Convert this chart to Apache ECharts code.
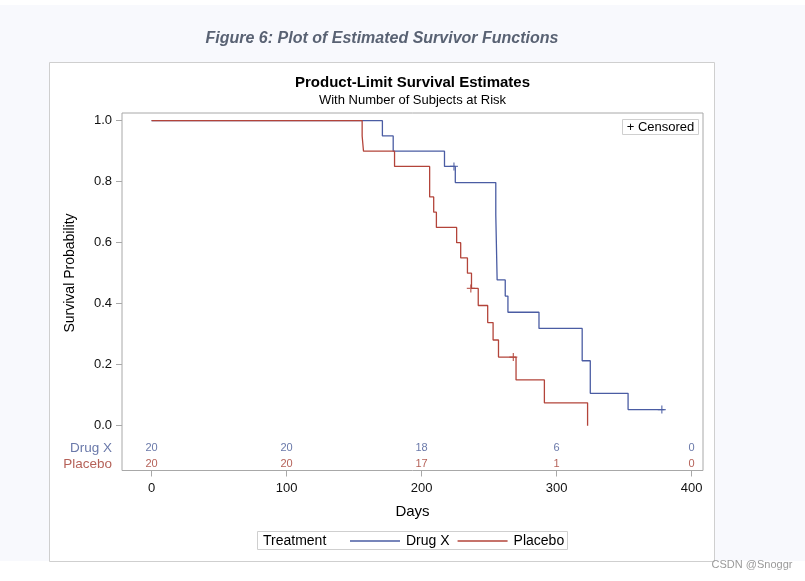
<!DOCTYPE html>
<html>
<head>
<meta charset="utf-8">
<script src="https://cdn.jsdelivr.net/npm/echarts@6/dist/echarts.min.js"></script>
<style>
html,body{margin:0;padding:0;background:#fff;}
#chart{width:805px;height:581px;}
</style>
</head>
<body>
<div id="chart"></div>
<script>
// ---- data ----
const drugDays = [0, 171, 179, 217, 225, 255, 256, 262, 264, 287, 319, 325, 353, 380];
const drugSurv = [1.0, 0.95, 0.90, 0.85, 0.797, 0.691, 0.478, 0.425, 0.372, 0.319, 0.213, 0.106, 0.053, 0.053];
const drugCensorDays = [224, 378];
const drugCensorSurv = [0.85, 0.053];

const placeboDays = [0, 156, 157, 180, 206, 209, 211, 226, 229, 234, 237, 242, 249, 253, 257, 270, 291, 323];
const placeboSurv = [1.0, 0.95, 0.90, 0.85, 0.75, 0.70, 0.65, 0.60, 0.55, 0.50, 0.45, 0.394, 0.338, 0.281, 0.225, 0.15, 0.075, 0.0];
const placeboCensorDays = [236.5, 268];
const placeboCensorSurv = [0.45, 0.225];

const riskDays = [0, 100, 200, 300, 400];
const drugAtRisk = [20, 20, 18, 6, 0];
const placeboAtRisk = [20, 20, 17, 1, 0];

const xTicks = [0, 100, 200, 300, 400];
const yTicks = [0.0, 0.2, 0.4, 0.6, 0.8, 1.0];

const groupNames = ['Drug X', 'Placebo'];

// ---- style ----
const BLUE = '#4a5ca3';
const RED = '#b3443a';
const BLUE_TXT = '#445694';
const RED_TXT = '#a23a2e';
const FONT = '"Liberation Sans", Arial, sans-serif';
const X_MIN = -21.9, X_MAX = 408.5;
const Y_MIN = -0.1469, Y_MAX = 1.0252;
const ROW1_Y = -0.073, ROW2_Y = -0.1256;

const pair = (xs, ys) => xs.map((x, i) => [x, ys[i]]);
const crossPath = 'path://M5,0L5,10M0,5L10,5';

const chart = echarts.init(document.getElementById('chart'), null, {renderer: 'canvas'});
chart.setOption({
  animation: false,
  backgroundColor: '#ffffff',
  textStyle: {fontFamily: FONT},
  graphic: [
    {type: 'rect', z: -20, silent: true, shape: {x: 0, y: 5, width: 805, height: 556}, style: {fill: '#f8f9fd'}},
    {type: 'rect', z: -19, silent: true, shape: {x: 49.5, y: 62.5, width: 665, height: 499}, style: {fill: '#ffffff', stroke: '#cfcfcf', lineWidth: 1}},
    {type: 'text', z: 10, x: 382, y: 39, style: {x: 0, y: 0, text: 'Figure 6: Plot of Estimated Survivor Functions', fill: '#596273', font: 'italic bold 16px ' + FONT, textAlign: 'center', textVerticalAlign: 'middle'}},
    {type: 'text', z: 10, x: 412.5, y: 83, style: {x: 0, y: 0, text: 'Product-Limit Survival Estimates', fill: '#000', font: 'bold 15px ' + FONT, textAlign: 'center', textVerticalAlign: 'middle'}},
    {type: 'text', z: 10, x: 412.5, y: 100, style: {x: 0, y: 0, text: 'With Number of Subjects at Risk', fill: '#000', font: '13px ' + FONT, textAlign: 'center', textVerticalAlign: 'middle'}},
    {type: 'text', z: 10, x: 70, y: 273, rotation: Math.PI / 2, style: {x: 0, y: 0, text: 'Survival Probability', fill: '#000', font: '14px ' + FONT, textAlign: 'center', textVerticalAlign: 'middle'}},
    {type: 'rect', z: 10, shape: {x: 622.5, y: 119.5, width: 76, height: 15}, style: {fill: '#fff', stroke: '#cfcfcf', lineWidth: 1}},
    {type: 'text', z: 11, x: 660.5, y: 127.5, style: {x: 0, y: 0, text: '+ Censored', fill: '#000', font: '13px ' + FONT, textAlign: 'center', textVerticalAlign: 'middle'}},
    {type: 'rect', z: 10, shape: {x: 257.5, y: 531.5, width: 310, height: 18}, style: {fill: '#fff', stroke: '#cfcfcf', lineWidth: 1}},
    {type: 'text', z: 11, x: 263, y: 541, style: {x: 0, y: 0, text: 'Treatment', fill: '#000', font: '14px ' + FONT, textAlign: 'left', textVerticalAlign: 'middle'}},
    {type: 'text', z: 11, x: 752, y: 565, style: {x: 0, y: 0, text: 'CSDN @Snoggr', fill: '#9a9a9a', font: '11px ' + FONT, textAlign: 'center', textVerticalAlign: 'middle'}}
  ],
  legend: {
    data: groupNames,
    left: 350, top: 534,
    padding: 0,
    itemGap: 8,
    itemWidth: 50, itemHeight: 1.5,
    icon: 'rect',
    textStyle: {fontSize: 14, color: '#000', fontFamily: FONT, padding: [0, 0, 0, 1]},
    z: 12
  },
  grid: {left: 122, right: 102, top: 113, bottom: 110.5, show: true, borderColor: '#a8a8a8', borderWidth: 1, backgroundColor: 'transparent', outerBoundsMode: 'none', containLabel: false},
  xAxis: {
    type: 'value', min: X_MIN, max: X_MAX, position: 'bottom',
    name: 'Days', nameLocation: 'middle', nameGap: 34,
    nameTextStyle: {fontSize: 15, color: '#000', fontFamily: FONT},
    axisLine: {show: false, onZero: false},
    splitLine: {show: false},
    axisTick: {show: true, length: 6, lineStyle: {color: '#a8a8a8'}, customValues: xTicks},
    axisLabel: {fontSize: 13, color: '#111', margin: 11, customValues: xTicks, formatter: v => String(Math.round(v))}
  },
  yAxis: {
    type: 'value', min: Y_MIN, max: Y_MAX, position: 'left',
    axisLine: {show: false, onZero: false},
    splitLine: {show: false},
    axisTick: {show: true, length: 6, lineStyle: {color: '#a8a8a8'}, customValues: yTicks},
    axisLabel: {fontSize: 13, color: '#111', margin: 10, customValues: yTicks, formatter: v => v.toFixed(1)}
  },
  series: [
    {name: 'Drug X', type: 'line', step: 'end', showSymbol: false, symbol: 'none',
     data: pair(drugDays, drugSurv), lineStyle: {color: BLUE, width: 1.3}, itemStyle: {color: BLUE}, z: 3},
    {name: 'Placebo', type: 'line', step: 'end', showSymbol: false, symbol: 'none',
     data: pair(placeboDays, placeboSurv), lineStyle: {color: RED, width: 1.3}, itemStyle: {color: RED}, z: 3},
    {name: 'Drug X censored', type: 'scatter', symbol: crossPath, symbolSize: 8,
     data: pair(drugCensorDays, drugCensorSurv), itemStyle: {color: 'rgba(0,0,0,0)', borderColor: BLUE, borderWidth: 1.3}, z: 4},
    {name: 'Placebo censored', type: 'scatter', symbol: crossPath, symbolSize: 8,
     data: pair(placeboCensorDays, placeboCensorSurv), itemStyle: {color: 'rgba(0,0,0,0)', borderColor: RED, borderWidth: 1.3}, z: 4},
    {name: 'Drug X at risk', type: 'scatter', symbolSize: 0, silent: true,
     data: riskDays.map((d, i) => [d, ROW1_Y, drugAtRisk[i]]),
     label: {show: true, position: 'inside', formatter: p => String(p.value[2]), color: BLUE_TXT, fontSize: 11, fontFamily: FONT}},
    {name: 'Placebo at risk', type: 'scatter', symbolSize: 0, silent: true,
     data: riskDays.map((d, i) => [d, ROW2_Y, placeboAtRisk[i]]),
     label: {show: true, position: 'inside', formatter: p => String(p.value[2]), color: RED_TXT, fontSize: 11, fontFamily: FONT}},
    {name: 'row labels', type: 'scatter', symbolSize: 0, silent: true, clip: false,
     data: [
       {value: [X_MIN, ROW1_Y, groupNames[0]], label: {color: BLUE_TXT}},
       {value: [X_MIN, ROW2_Y, groupNames[1]], label: {color: RED_TXT}}
     ],
     label: {show: true, position: 'left', distance: 10, fontSize: 13.5, fontFamily: FONT,
       formatter: p => p.value[2]},
     itemStyle: {color: 'transparent'}
    }
  ]
});
</script>
</body>
</html>
